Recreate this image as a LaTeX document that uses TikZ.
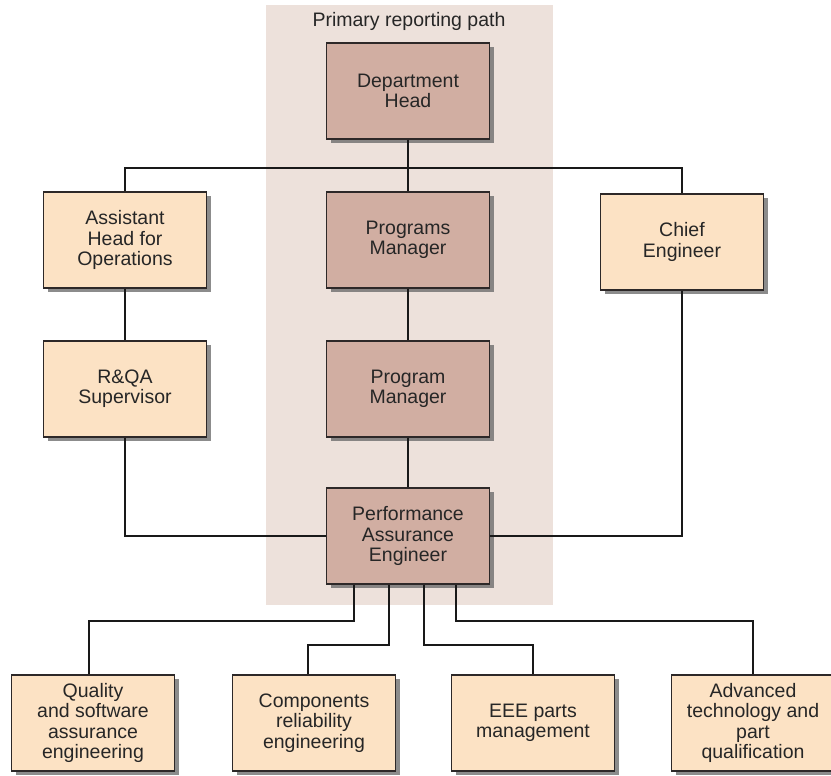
\documentclass[tikz,border=0pt]{standalone}
\usepackage{fontspec}
\setmainfont{Liberation Sans}
\usetikzlibrary{shadows}
\definecolor{rosy}{RGB}{209,174,162}
\definecolor{peach}{RGB}{252,226,196}
\definecolor{band}{RGB}{237,225,219}
\definecolor{edge}{RGB}{45,40,40}
\tikzset{
  box/.style={rectangle, draw=edge, line width=1.3pt, align=center,
    minimum width=163pt, minimum height=96pt, inner sep=0pt,
    font=\fontsize{19.5}{20.3}\selectfont, text=black!85,
    drop shadow={shadow xshift=4pt, shadow yshift=-4pt, fill=black!60, opacity=0.75}},
  main/.style={box, fill=rosy},
  side/.style={box, fill=peach},
  wire/.style={draw=black!90, line width=1.1pt}
}
\begin{document}
\begin{tikzpicture}[x=1pt,y=-1pt]
\useasboundingbox (0,0) rectangle (831,776);
\fill[band] (266,5) rectangle (553,605);
\node[font=\fontsize{19.5}{20.3}\selectfont, text=black!85] (title) at (409,21) {Primary reporting path};

\node[main] (head) at (408,91) {Department\\Head};
\node[main] (pm1) at (408,240) {Programs\\Manager};
\node[main] (pm2) at (408,389) {Program\\Manager};
\node[main] (pae) at (408,536) {Performance\\Assurance\\Engineer};

\node[side] (asst) at (125,240) {Assistant\\Head for\\Operations};
\node[side] (rqa) at (125,389) {R\&QA\\Supervisor};
\node[side] (chief) at (682,242) {Chief\\Engineer};

\node[side] (qual) at (93,723) {Quality\\and software\\assurance\\engineering};
\node[side] (comp) at (314,723) {Components\\reliability\\engineering};
\node[side] (eee) at (533,723) {EEE parts\\management};
\node[side] (adv) at (753,723) {Advanced\\technology and\\part\\qualification};

% connectors
\draw[wire] (head) -- (pm1);
\draw[wire] (pm1) -- (pm2);
\draw[wire] (pm2) -- (pae);
\draw[wire] (asst) -- (rqa);
\draw[wire] (asst.north) |- (409,168) -| (chief.north);
\draw[wire] (rqa.south) |- (pae.west);
\draw[wire] (chief.south) |- (pae.east);

\draw[wire] (pae.south -| 354,0) |- (89,621) -- (qual.north -| 89,0);
\draw[wire] (pae.south -| 389,0) |- (308,645) -- (comp.north -| 308,0);
\draw[wire] (pae.south -| 424,0) |- (eee.north |- 0,645) -- (eee.north);
\draw[wire] (pae.south -| 456,0) |- (adv.north |- 0,621) -- (adv.north);
\end{tikzpicture}
\end{document}
